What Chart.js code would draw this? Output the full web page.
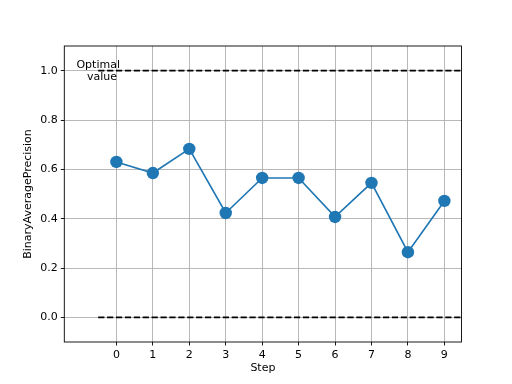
<!DOCTYPE html>
<html>
<head>
<meta charset="utf-8">
<script src="https://cdn.jsdelivr.net/npm/chart.js@4/dist/chart.umd.min.js"></script>
<style>
html,body{margin:0;padding:0;background:#fff;}
#wrap{width:512px;height:384px;position:relative;}
</style>
</head>
<body>
<div id="wrap"><canvas id="c" width="512" height="384"></canvas></div>
<script>
const steps = [0, 1, 2, 3, 4, 5, 6, 7, 8, 9];
const precision = [0.630, 0.585, 0.683, 0.423, 0.565, 0.565, 0.407, 0.545, 0.264, 0.472];
const optimalValue = 1.0;
const baselineValue = 0.0;
const refLineX = [-0.5, 9.5];
const xTicks = [0, 1, 2, 3, 4, 5, 6, 7, 8, 9];
const yTicks = [0.0, 0.2, 0.4, 0.6, 0.8, 1.0];
const annotationLines = ["Optimal", " value"];

const FONT = "'DejaVu Sans', sans-serif";
Chart.defaults.font.family = FONT;
Chart.defaults.font.size = 11;
Chart.defaults.color = '#000';

const framePlugin = {
  id: 'frame',
  afterDatasetsDraw(chart) {
    const {ctx, scales} = chart;
    const px = scales.x.getPixelForValue(-0.5);
    const py = scales.y.getPixelForValue(optimalValue);
    ctx.save();
    ctx.fillStyle = '#000';
    ctx.font = "11px " + FONT;
    ctx.textAlign = 'center';
    ctx.textBaseline = 'middle';
    ctx.fillText(annotationLines[0], px, py - 6);
    ctx.fillText(annotationLines[1], px + 2, py + 6);
    ctx.restore();
  },
  afterDraw(chart) {
    const {ctx, chartArea: a} = chart;
    ctx.save();
    ctx.strokeStyle = '#000';
    ctx.lineWidth = 0.9;
    ctx.strokeRect(a.left, a.top, a.right - a.left, a.bottom - a.top);
    ctx.restore();
  }
};

new Chart(document.getElementById('c'), {
  type: 'line',
  data: {
    datasets: [
      {
        data: refLineX.map(x => ({x, y: optimalValue})),
        borderColor: '#000', borderWidth: 1.67, borderDash: [6.2, 2.7],
        pointRadius: 0, fill: false, order: 2
      },
      {
        data: refLineX.map(x => ({x, y: baselineValue})),
        borderColor: '#000', borderWidth: 1.67, borderDash: [6.2, 2.7],
        pointRadius: 0, fill: false, order: 2
      },
      {
        data: steps.map((s, i) => ({x: s, y: precision[i]})),
        borderColor: '#1f77b4', backgroundColor: '#1f77b4', borderWidth: 1.67,
        pointRadius: 6.2, pointBorderWidth: 0, pointBackgroundColor: '#1f77b4',
        fill: false, tension: 0, order: 1
      }
    ]
  },
  options: {
    responsive: false,
    animation: false,
    events: [],
    plugins: { legend: { display: false }, tooltip: { enabled: false } },
    layout: { padding: { left: 0, top: 46, right: 50.5, bottom: 0 } },
    scales: {
      x: {
        type: 'linear', min: -1.43, max: 9.47,
        afterBuildTicks: s => { s.ticks = xTicks.map(v => ({value: v})); },
        afterFit: s => { s.height = 42; },
        grid: { color: '#b0b0b0', lineWidth: 0.9, drawTicks: true, tickLength: 3.5, tickColor: '#000', tickWidth: 0.9 },
        border: { display: false },
        ticks: { padding: 3, font: { size: 11 }, callback: v => String(v), maxRotation: 0 },
        title: { display: true, text: 'Step', font: { size: 11 }, padding: { top: 0, bottom: 9.4 } }
      },
      y: {
        type: 'linear', min: -0.1, max: 1.1,
        afterBuildTicks: s => { s.ticks = yTicks.map(v => ({value: v})); },
        afterFit: s => { s.width = 64.3; },
        grid: { color: '#b0b0b0', lineWidth: 0.9, drawTicks: true, tickLength: 3.5, tickColor: '#000', tickWidth: 0.9 },
        border: { display: false },
        ticks: { padding: 3, font: { size: 11 }, callback: v => v.toFixed(1) },
        title: { display: true, text: 'BinaryAveragePrecision', font: { size: 11 }, padding: { top: 21.4, bottom: 0 } }
      }
    }
  },
  plugins: [framePlugin]
});
</script>
</body>
</html>
